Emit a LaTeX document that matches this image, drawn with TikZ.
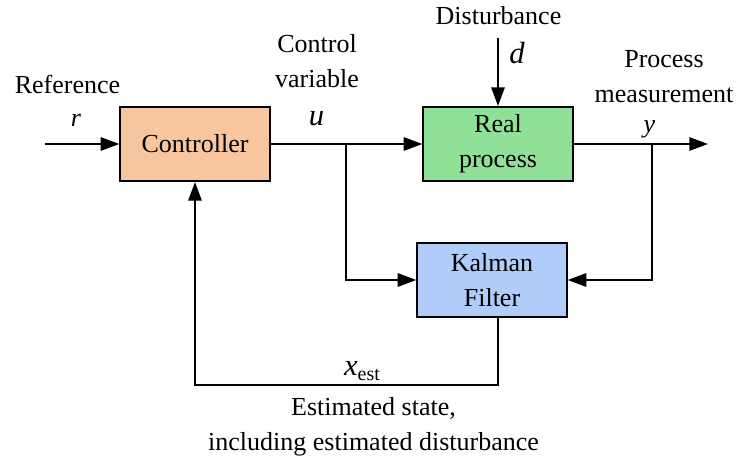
\documentclass[tikz,border=0pt]{standalone}
\usepackage{fontspec}
\setmainfont{Liberation Serif}
\usepackage{tikz}
\usetikzlibrary{arrows.meta}
\usepackage{xcolor}
\definecolor{ctrlfill}{HTML}{F8C69E}
\definecolor{procfill}{HTML}{90E098}
\definecolor{kalmanfill}{HTML}{B0CCF8}

\tikzset{
  block/.style={draw,line width=1.5pt,minimum width=112pt,minimum height=55.5pt,
    align=center,inner sep=0pt},
  lbl/.style={anchor=base,inner sep=0pt},
  biglbl/.style={lbl,font=\fontsize{23}{26}\selectfont\itshape},
  sig/.style={line width=1.5pt}
}
\newcommand{\subest}{{\fontsize{15}{15}\upshape\selectfont\raisebox{-4pt}{est}}}

\begin{document}
\begin{tikzpicture}[>={Triangle[length=14pt,width=10pt]},x=0.75pt,y=-0.75pt,
  font=\fontsize{19.5}{26.25}\selectfont]
  \useasboundingbox (0,0) rectangle (737,459);
  % Bloecke
  \node[block,fill=ctrlfill] (ctrl) at (195,144) {Controller};
  \node[block,fill=procfill] (proc) at (498,144) {Real\\process};
  \node[block,fill=kalmanfill] (kf) at (492,280) {Kalman\\Filter};
  % Hilfspunkte
  \coordinate (in) at (45,144);
  \coordinate (out) at (708,144);
  \coordinate (dist) at (498,38);
  \coordinate (ubr) at (346,144);
  \coordinate (ybr) at (652,144);
  \coordinate (xbot) at (498,385);
  \coordinate (xleft) at (195,385);
  % Signale
  \draw[sig,->] (in) -- (ctrl);
  \draw[sig,->] (ctrl) -- (proc);
  \draw[sig,->] (dist) -- (proc);
  \draw[sig,->] (proc) -- (out);
  \draw[sig,->] (ubr) |- (kf);
  \draw[sig,->] (ybr) |- (kf);
  \draw[sig,->] (kf.south -| xbot) -- (xbot) -- (xleft) -- (ctrl);
  % Beschriftungen
  \node[lbl] (reflbl) at (67.5,94) {Reference};
  \node[lbl] (rlbl) at (76,127) {\textit{r}};
  \node[lbl] (ulbl) at (317,53) {Control};
  \node[lbl] (ulbl2) at (317,88) {variable};
  \node[biglbl] (usym) at (316.5,126) {u};
  \node[lbl] (dlbl) at (498.5,25) {Disturbance};
  \node[biglbl] (dsym) at (517,64) {d};
  \node[lbl] (ylbl) at (664,68) {Process};
  \node[lbl] (ylbl2) at (664,103) {measurement};
  \node[lbl] (ysym) at (649.5,133) {\textit{y}};
  \node[biglbl] (xsym) at (362,375) {x\subest};
  \node[lbl] (xlbl) at (373.5,415) {Estimated state,};
  \node[lbl] (xlbl2) at (373.5,450) {including estimated disturbance};
\end{tikzpicture}
\end{document}
